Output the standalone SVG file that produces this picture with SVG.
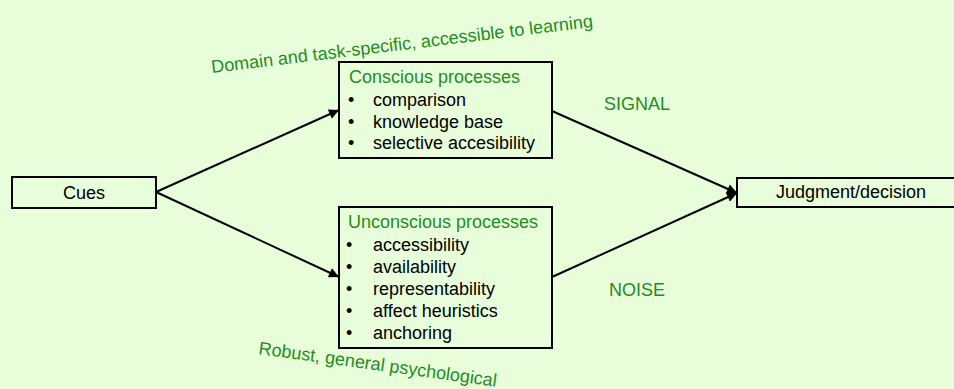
<svg xmlns="http://www.w3.org/2000/svg" width="954" height="389" viewBox="0 0 954 389">
<style>
.box{fill:none;stroke:#000;stroke-width:2}
text{font-family:"Liberation Sans",Arial,sans-serif;font-size:18px}
.g{fill:#1f8c1f}
.k{fill:#000}
.c{text-anchor:middle}
.conn{stroke:#000;stroke-width:2;fill:none;marker-end:url(#ah)}
</style>
<defs>
<marker id="ah" viewBox="0 0 10 10" refX="10" refY="5" markerWidth="6" markerHeight="5" orient="auto" markerUnits="strokeWidth">
<path d="M0,0 L10,5 L0,10 Z" fill="#000"/>
</marker>
</defs>
<rect x="0" y="0" width="954" height="389" fill="#e8fedb"/>
<g id="connectors">
<line class="conn" x1="156" y1="192" x2="339" y2="110"/>
<line class="conn" x1="156" y1="192" x2="339" y2="277"/>
<line class="conn" x1="552" y1="111" x2="737" y2="193"/>
<line class="conn" x1="552" y1="277" x2="737" y2="193"/>
</g>
<g id="cues">
<rect class="box" x="12" y="177" width="144" height="31"/>
<text class="k c" x="84" y="199">Cues</text>
</g>
<g id="conscious">
<rect class="box" x="339" y="62" width="213" height="96"/>
<text class="g" x="349" y="83">Conscious processes</text>
<text class="k" x="348" y="106">•</text><text class="k" x="373" y="106">comparison</text>
<text class="k" x="348" y="127.5">•</text><text class="k" x="373" y="127.5">knowledge base</text>
<text class="k" x="348" y="149">•</text><text class="k" x="373" y="149">selective accesibility</text>
</g>
<g id="unconscious">
<rect class="box" x="339" y="207" width="213" height="141"/>
<text class="g" x="348" y="228">Unconscious processes</text>
<text class="k" x="346" y="251">•</text><text class="k" x="373" y="251">accessibility</text>
<text class="k" x="346" y="273">•</text><text class="k" x="373" y="273">availability</text>
<text class="k" x="346" y="294.5">•</text><text class="k" x="373" y="294.5">representability</text>
<text class="k" x="346" y="316.5">•</text><text class="k" x="373" y="316.5">affect heuristics</text>
<text class="k" x="346" y="339">•</text><text class="k" x="373" y="339">anchoring</text>
</g>
<g id="judgment">
<rect class="box" x="737" y="178" width="228" height="29"/>
<text class="k c" x="851" y="198">Judgment/decision</text>
</g>
<g id="labels">
<text class="g" x="604" y="110">SIGNAL</text>
<text class="g" x="609" y="296">NOISE</text>
<text class="g" x="212" y="73" transform="rotate(-6.9 212 73)">Domain and task-specific, accessible to learning</text>
<text class="g" x="258" y="354" transform="rotate(7.8 258 354)">Robust, general psychological</text>
</g>
</svg>
